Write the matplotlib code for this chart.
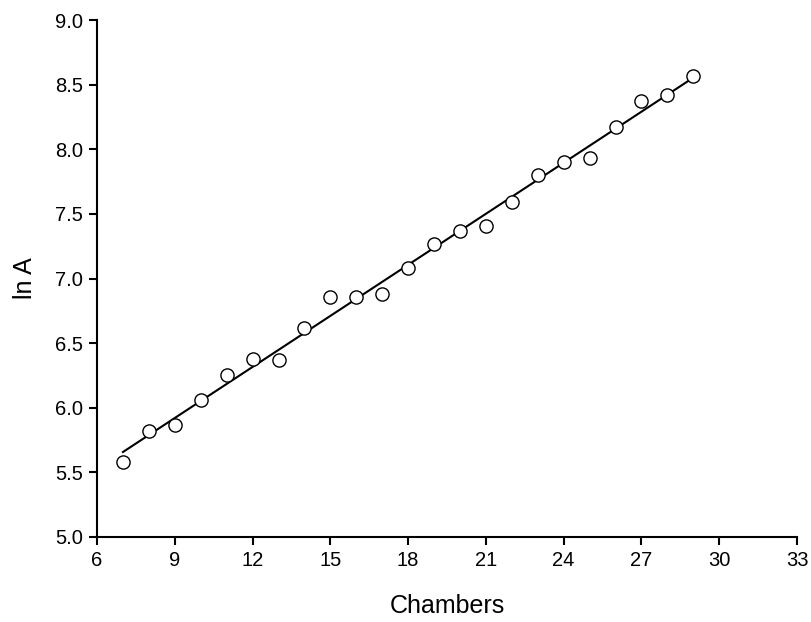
import numpy as np
import matplotlib
matplotlib.use("Agg")
import matplotlib.pyplot as plt

plt.rcParams['font.family'] = ['Liberation Sans', 'DejaVu Sans']

chambers = [7, 8, 9, 10, 11, 12, 13, 14, 15, 16, 17, 18,
            19, 20, 21, 22, 23, 24, 25, 26, 27, 28, 29]
ln_a = [5.58, 5.82, 5.87, 6.06, 6.25, 6.38, 6.37, 6.62, 6.86, 6.86, 6.88, 7.08,
        7.27, 7.37, 7.41, 7.59, 7.80, 7.90, 7.93, 8.17, 8.37, 8.42, 8.57]
x_ticks = [6, 9, 12, 15, 18, 21, 24, 27, 30, 33]
y_ticks = [5.0, 5.5, 6.0, 6.5, 7.0, 7.5, 8.0, 8.5, 9.0]

fig = plt.figure(figsize=(8.12, 6.22), dpi=100)
ax = fig.add_axes([0.1195, 0.1367, 0.862, 0.8311])

# least-squares line over the observed range
slope, intercept = np.polyfit(chambers, ln_a, 1)
xs = np.array([min(chambers), max(chambers)])
ax.plot(xs, slope * xs + intercept, color='black', lw=1.5, zorder=2)

ax.plot(chambers, ln_a, 'o', ms=9.5, mfc='white', mec='black', mew=1.0, zorder=3)

ax.set_xlim(6, 33)
ax.set_ylim(5.0, 9.0)
ax.set_xticks(x_ticks)
ax.set_yticks(y_ticks)
ax.set_yticklabels([f"{v:.1f}" for v in y_ticks])

for side in ('top', 'right'):
    ax.spines[side].set_visible(False)
for side in ('left', 'bottom'):
    ax.spines[side].set_linewidth(1.5)
ax.tick_params(direction='out', length=6, width=1.5, labelsize=14.5, pad=4)

ax.set_xlabel('Chambers', fontsize=18, labelpad=17.5)
ax.set_ylabel('ln A', fontsize=18, labelpad=13)

fig.savefig('out.png', dpi=100)
